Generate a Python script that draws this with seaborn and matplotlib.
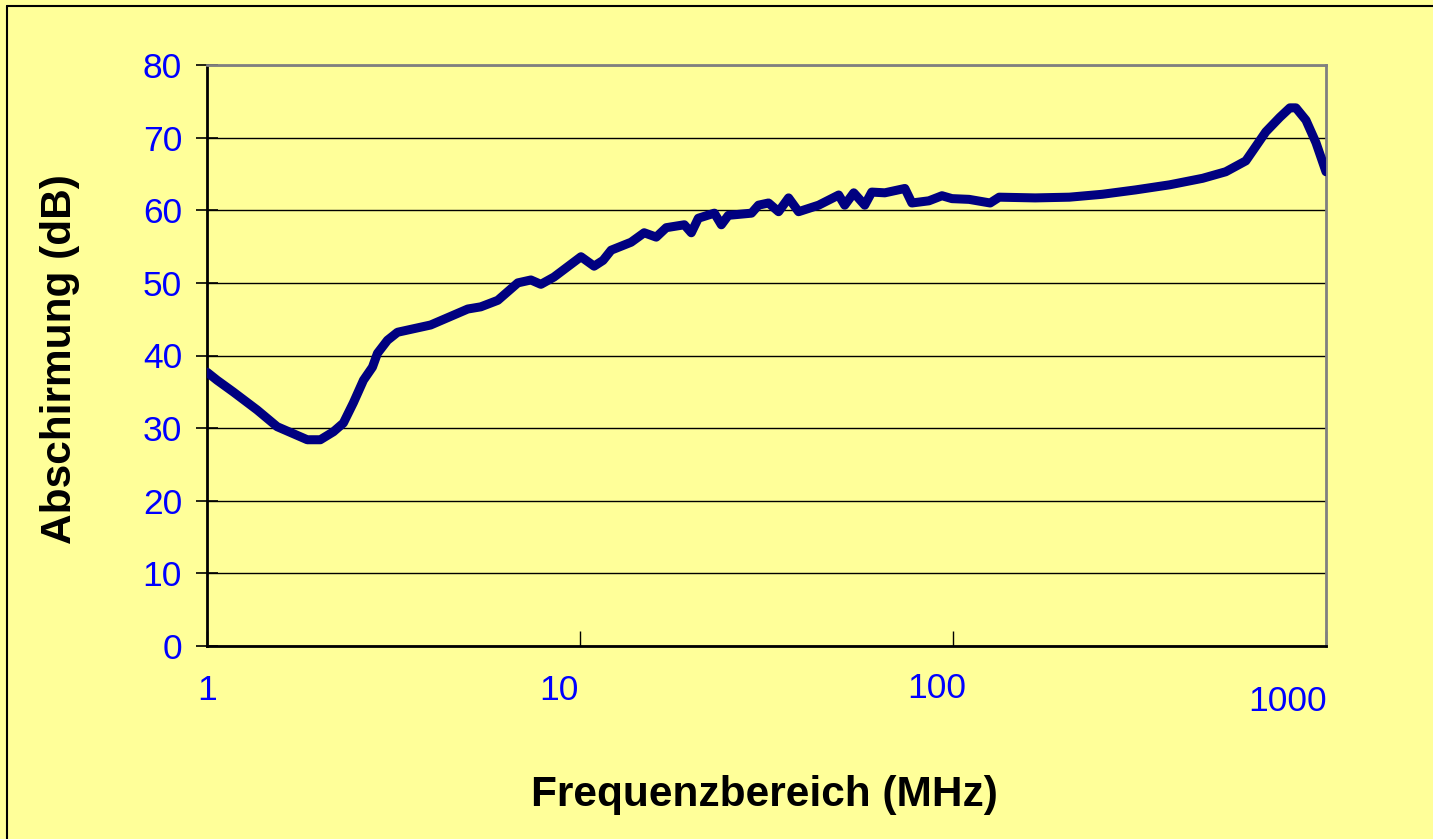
import numpy as np
import pandas as pd
import seaborn as sns
import matplotlib.pyplot as plt
from matplotlib.lines import Line2D
from matplotlib.transforms import offset_copy

# --- Data (frequency in MHz, shielding in dB) ---
freq_mhz = [1.0, 1.064, 1.175, 1.363, 1.542, 1.857, 2.013, 2.182, 2.321, 2.469,
            2.627, 2.777, 2.864, 3.047, 3.242, 3.977, 5.001, 5.419, 6.021, 6.813,
            7.385, 7.855, 8.514, 10.06, 10.91, 11.53, 12.12, 13.71, 14.86, 16.01,
            17.03, 19.04, 19.88, 20.76, 22.92, 23.93, 24.99, 28.83, 30.10, 32.02,
            34.07, 36.24, 38.55, 43.63, 49.38, 51.25, 54.19, 57.99, 60.56, 65.64,
            74.30, 77.59, 86.19, 93.42, 99.38, 110.4, 125.8, 133.0, 166.1, 205.1,
            251.5, 308.5, 380.7, 467.0, 538.5, 609.6, 636.6, 689.8, 752.0, 800.2,
            830.5, 883.6, 940.0, 1000.0]
shielding_db = [37.7, 36.6, 35.0, 32.5, 30.2, 28.4, 28.4, 29.5, 30.7, 33.5,
                36.6, 38.4, 40.3, 42.1, 43.2, 44.2, 46.4, 46.7, 47.6, 50.0,
                50.4, 49.8, 50.8, 53.6, 52.3, 53.1, 54.5, 55.6, 56.9, 56.3,
                57.6, 58.0, 56.9, 58.9, 59.6, 58.0, 59.3, 59.6, 60.7, 61.0,
                59.8, 61.7, 59.8, 60.7, 62.1, 60.7, 62.4, 60.7, 62.5, 62.4,
                63.0, 61.0, 61.3, 62.0, 61.6, 61.5, 61.0, 61.8, 61.7, 61.8,
                62.2, 62.8, 63.5, 64.4, 65.3, 66.8, 68.2, 70.8, 72.8, 74.1,
                74.1, 72.4, 69.3, 65.3]
y_ticks = [0, 10, 20, 30, 40, 50, 60, 70, 80]
x_ticks = [1, 10, 100, 1000]
x_tick_labels = ['1', '10', '100', '1000']

df = pd.DataFrame({'freq': freq_mhz, 'db': shielding_db})

BG = '#FFFF99'
LINE = '#000080'
BLUE = '#0000FF'

sns.set_style('white', rc={'axes.facecolor': BG, 'figure.facecolor': BG})
plt.rcParams['font.family'] = ['Liberation Sans', 'DejaVu Sans']

fig = plt.figure(figsize=(14.33, 8.39), dpi=100)
ax = fig.add_axes([207 / 1433, 1 - 646 / 839, (1326 - 207) / 1433, (646 - 65) / 839])

sns.lineplot(data=df, x='freq', y='db', sort=False, color=LINE, linewidth=6.5,
             solid_capstyle='round', solid_joinstyle='round', ax=ax, zorder=3)

ax.set_xscale('log')
ax.set_xlim(1, 1000)
ax.set_ylim(0, 80)

# horizontal grid
ax.set_yticks(y_ticks)
ax.yaxis.grid(True, color='black', linewidth=1.0)
ax.xaxis.grid(False)
ax.tick_params(axis='y', direction='inout', length=16, width=1.2, color='black',
               labelsize=25.5, labelcolor=BLUE, pad=10, left=True)

# x ticks: inside marks, labels placed like the original
ax.set_xticks(x_ticks)
ax.minorticks_off()
ax.set_xticklabels([])
ax.tick_params(axis='x', direction='in', length=11, width=1.0, color='black',
               bottom=True)

label_offsets = {'1': (0, -54, 'center'), '10': (-1, -54, 'right'),
                 '100': (-16, -52, 'center'), '1000': (1, -65, 'right')}
base = ax.get_xaxis_transform()
for xv, lab in zip(x_ticks, x_tick_labels):
    dx, dy, ha = label_offsets[lab]
    tr = offset_copy(base, fig=fig, x=dx, y=dy, units='dots')
    ax.text(xv, 0, lab, transform=tr, ha=ha, va='baseline',
            fontsize=25.5, color=BLUE)

for side in ['left', 'bottom']:
    ax.spines[side].set_color('black')
    ax.spines[side].set_linewidth(2.0)
for side in ['top', 'right']:
    ax.spines[side].set_color('#808080')
    ax.spines[side].set_linewidth(2.0)

ax.set_xlabel('')
ax.set_ylabel('')
fig.text(764 / 1433, 1 - 795 / 839, 'Frequenzbereich (MHz)', ha='center',
         va='center', fontsize=30.5, fontweight='bold', color='black')
fig.text(60 / 1433, 1 - 359 / 839, 'Abschirmung (dB)', ha='center', va='center',
         rotation=90, fontsize=30.5, fontweight='bold', color='black')

# outer chart border
fig.add_artist(Line2D([7 / 1433, 7 / 1433], [0, 1 - 6 / 839], color='black',
                      linewidth=1.5, transform=fig.transFigure))
fig.add_artist(Line2D([7 / 1433, 1], [1 - 6 / 839, 1 - 6 / 839], color='black',
                      linewidth=1.5, transform=fig.transFigure))

fig.savefig('out.png', dpi=100, facecolor=BG)
